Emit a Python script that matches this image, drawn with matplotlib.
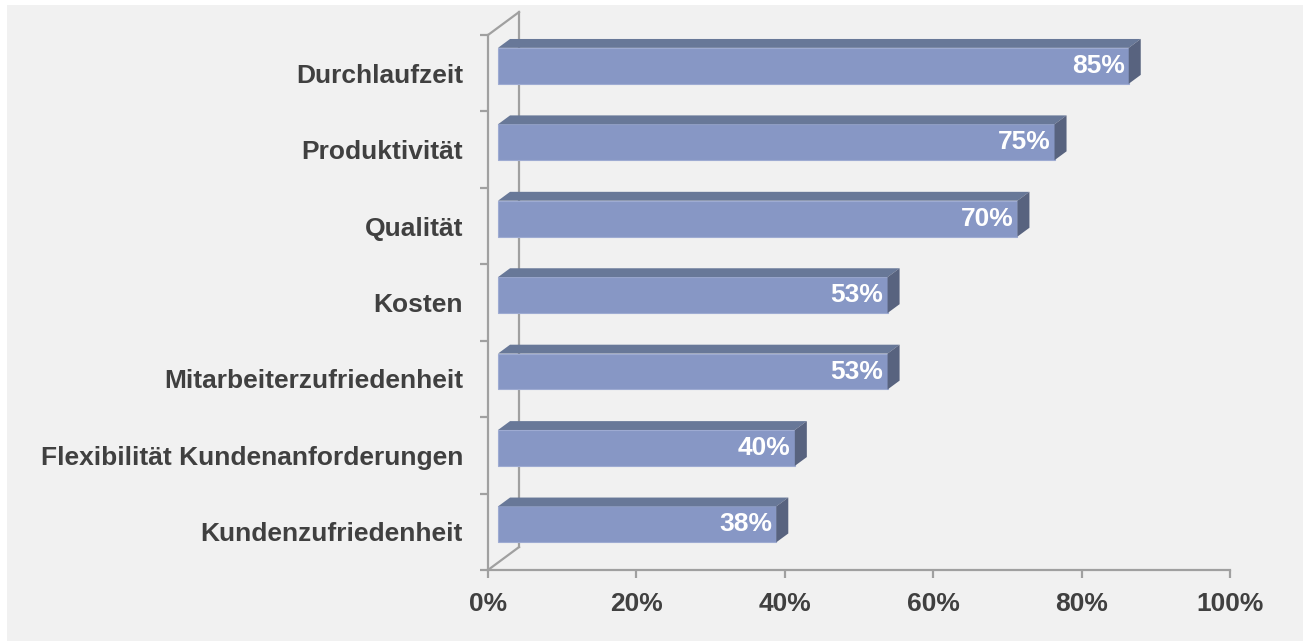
import matplotlib
matplotlib.use('Agg')
import matplotlib.pyplot as plt
from matplotlib.patches import Polygon, Rectangle

plt.rcParams['font.family'] = ['Liberation Sans', 'DejaVu Sans']

# Data (bottom to top)
categories = ['Kundenzufriedenheit', 'Flexibilität Kundenanforderungen',
              'Mitarbeiterzufriedenheit', 'Kosten', 'Qualität',
              'Produktivität', 'Durchlaufzeit']
values = [37.5, 40, 52.5, 52.5, 70, 75, 85]
labels = ['38%', '40%', '53%', '53%', '70%', '75%', '85%']
xticks = [0, 20, 40, 60, 80, 100]

# colours
front_c = '#8797c5'
top_c = '#687898'
side_c = '#58637f'
axis_c = '#a0a0a0'
text_c = '#404040'

fig = plt.figure(figsize=(13.03, 6.41), dpi=100, facecolor='white')
# grey panel
fig.patches.append(Rectangle((7 / 1303, 0), 1 - 7 / 1303, 1 - 5 / 641,
                             transform=fig.transFigure, facecolor='#f1f1f1',
                             edgecolor='none', zorder=-10))

ax = fig.add_axes([488 / 1303, 71 / 641, 742 / 1303, 535 / 641])
ax.set_facecolor('none')
ax.set_xlim(0, 100)
ax.set_ylim(0, 7)

# pseudo 3d depth (data units)
dep_x, dep_y = 4.18, 0.30
off_x, off_y = 1.35, 0.097     # front face of the bars
bd_x, bd_y = 1.62, 0.116       # bar depth
h = 0.47

for sp in ['top', 'right']:
    ax.spines[sp].set_visible(False)
for sp in ['left', 'bottom']:
    ax.spines[sp].set_color(axis_c)
    ax.spines[sp].set_linewidth(1.6)

# back wall lines
kw = dict(color=axis_c, lw=1.6, clip_on=False, zorder=1)
ax.plot([0, dep_x], [7, 7 + dep_y], **kw)
ax.plot([dep_x, dep_x], [dep_y, 7 + dep_y], **kw)
ax.plot([0, dep_x], [0, dep_y], **kw)

ypos = [i + 0.5 + off_y for i in range(len(categories))]
ax.barh(ypos, values, height=h, left=off_x, color=front_c,
        edgecolor='#9eabd2', linewidth=0.8, zorder=3)

for y, v, lab in zip(ypos, values, labels):
    x0, x1 = off_x, off_x + v
    yb, yt = y - h / 2, y + h / 2
    ax.add_patch(Polygon([(x0, yt), (x1, yt), (x1 + bd_x, yt + bd_y),
                          (x0 + bd_x, yt + bd_y)], closed=True,
                         facecolor=top_c, edgecolor='none', zorder=3,
                         clip_on=False))
    ax.add_patch(Polygon([(x1, yb), (x1, yt), (x1 + bd_x, yt + bd_y),
                          (x1 + bd_x, yb + bd_y)], closed=True,
                         facecolor=side_c, edgecolor='none', zorder=3,
                         clip_on=False))
    ax.text(x1 - 0.55, y, lab, ha='right', va='center', color='white',
            fontsize=19, fontweight='bold', zorder=4)

# ticks
ax.set_yticks(range(8))
ax.set_yticklabels([])
ax.set_yticks([i + 0.5 for i in range(len(categories))], minor=True)
ax.set_yticklabels(categories, minor=True)
ax.tick_params(axis='y', which='major', length=6, width=1.6, color=axis_c,
               direction='out')
ax.tick_params(axis='y', which='minor', length=0, pad=18, labelsize=19,
               labelcolor=text_c)
for t in ax.get_yticklabels(minor=True):
    t.set_fontweight('bold')

ax.set_xticks(xticks)
ax.set_xticklabels([f'{t}%' for t in xticks])
ax.tick_params(axis='x', length=6, width=1.6, color=axis_c, direction='out',
               pad=10, labelsize=19, labelcolor=text_c)
for t in ax.get_xticklabels():
    t.set_fontweight('bold')

fig.savefig('out.png', dpi=100, facecolor='white')
